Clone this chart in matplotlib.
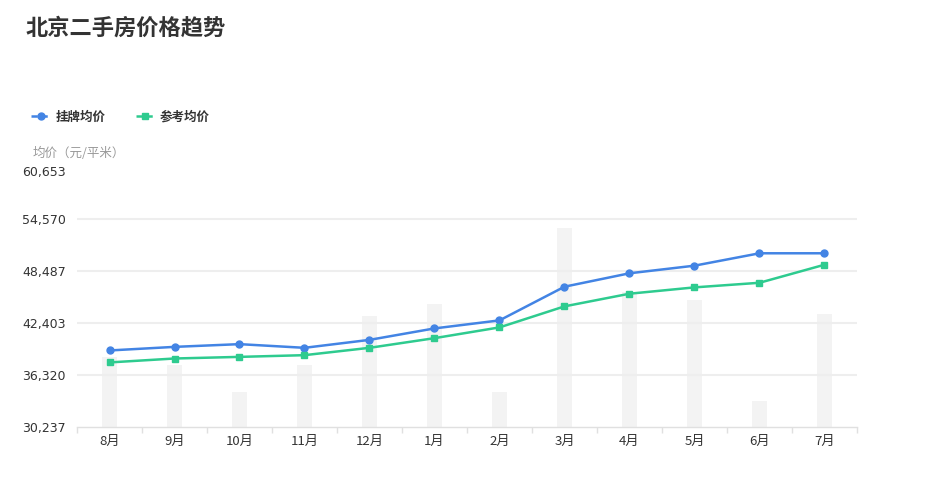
import matplotlib
matplotlib.use("Agg")
import matplotlib.pyplot as plt
import numpy as np
from matplotlib.lines import Line2D
from matplotlib.transforms import ScaledTranslation

plt.rcParams['font.family'] = ['Noto Sans CJK SC', 'DejaVu Sans']

months = ["8月", "9月", "10月", "11月", "12月", "1月", "2月", "3月", "4月", "5月", "6月", "7月"]
listing_price = [39190, 39610, 39930, 39500, 40430, 41770, 42710, 46650, 48220, 49110, 50560, 50560]
reference_price = [37790, 38250, 38440, 38640, 39500, 40630, 41890, 44350, 45830, 46570, 47110, 49220]
volume = [70, 62, 35, 62, 111, 123, 35, 199, 135, 127, 26, 113]
y_ticks = [30237, 36320, 42403, 48487, 54570, 60653]

W, H = 928, 479
fig = plt.figure(figsize=(W / 100, H / 100), dpi=100)
ax_l, ax_r, ax_b, ax_t = 77, 857, 427, 167
ax = fig.add_axes([ax_l / W, 1 - ax_b / H, (ax_r - ax_l) / W, (ax_b - ax_t) / H])

x = np.arange(len(months))

# background bars on hidden secondary axis
axb = ax.twinx()
axb.bar(x, volume, width=0.22, color="#f3f3f3", zorder=1)
axb.set_ylim(0, 260)
axb.axis("off")
ax.set_zorder(axb.get_zorder() + 1)
ax.patch.set_visible(False)

blue = "#4384e4"
green = "#2ecb8f"
ax.plot(x, listing_price, color=blue, lw=1.8, marker="o", ms=5, zorder=5)
ax.plot(x, reference_price, color=green, lw=1.8, marker="s", ms=5, zorder=5)

ax.set_xlim(-0.5, len(months) - 0.5)
ax.set_ylim(y_ticks[0], y_ticks[-1])
ax.set_yticks(y_ticks)
ax.set_yticklabels([f"{v:,}" for v in y_ticks], fontsize=9, color="#333333", family="DejaVu Sans")
for v in y_ticks[1:-1]:
    ax.axhline(v, color="#eeeeee", lw=1.5, zorder=0)

ax.set_xticks(x)
ax.set_xticklabels(months, fontsize=9.5, color="#333333")
ax.set_xticks(np.arange(-0.5, len(months)), minor=True)
ax.tick_params(axis="x", which="major", length=0, pad=6)
ax.tick_params(axis="x", which="minor", length=4, color="#e0e0e0", width=1)
ax.tick_params(axis="y", length=0, pad=8)

# nudge the top y label slightly downward, as in the reference
top_lbl = ax.get_yticklabels()[-1]
top_lbl.set_transform(top_lbl.get_transform() + ScaledTranslation(0, -4 / 100, fig.dpi_scale_trans))

for s in ["top", "right", "left"]:
    ax.spines[s].set_visible(False)
ax.spines["bottom"].set_color("#e0e0e0")
ax.spines["bottom"].set_linewidth(1)

# title
fig.text(26 / W, 1 - 28 / H, "北京二手房价格趋势", fontsize=16, fontweight="bold",
         color="#333333", va="center", ha="left")
# y-axis title
fig.text(33 / W, 1 - 153 / H, "均价（元/平米）", fontsize=9, color="#999999",
         va="center", ha="left")

# legend
handles = [
    Line2D([0], [0], color=blue, lw=1.8, ls=(0, (2.5, 1.5)), marker="o", ms=5),
    Line2D([0], [0], color=green, lw=1.8, ls=(0, (2.5, 1.5)), marker="s", ms=5),
]
leg = fig.legend(handles, ["挂牌均价", "参考均价"], loc="center left",
                 bbox_to_anchor=(20 / W, 1 - 117 / H), ncol=2, frameon=False,
                 handlelength=1.5, handletextpad=0.45, columnspacing=2.4,
                 prop={"size": 9, "weight": "bold"})
for t in leg.get_texts():
    t.set_color("#333333")

fig.savefig("out.png", dpi=100)
